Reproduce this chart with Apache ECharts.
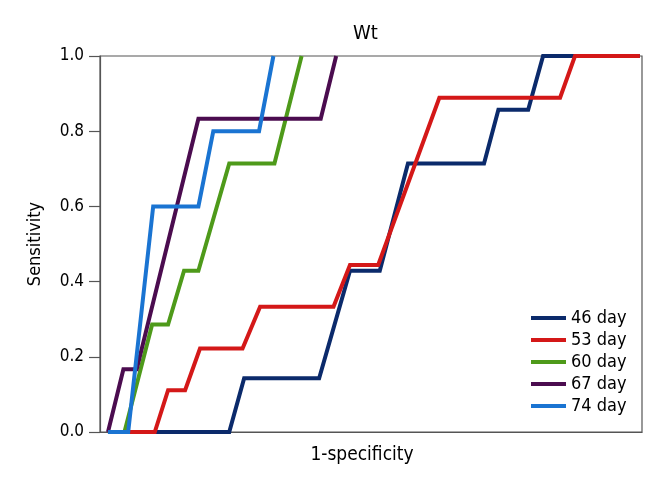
<!DOCTYPE html>
<html>
<head>
<meta charset="utf-8">
<script src="https://cdn.jsdelivr.net/npm/echarts@6/dist/echarts.min.js"></script>
<style>html,body{margin:0;padding:0;background:#fff;}#c{width:668px;height:485px;}</style>
</head>
<body>
<div id="c"></div>
<script>
var seriesNames = ['46 day', '53 day', '60 day', '67 day', '74 day'];
var colors = ['#0b2a6b', '#d41818', '#4e9a1a', '#4b0c4f', '#1a74d2'];

var x46 = [0, 0.228, 0.256, 0.397, 0.455, 0.511, 0.564, 0.707, 0.734, 0.790, 0.818, 1.0];
var y46 = [0, 0, 0.143, 0.143, 0.429, 0.429, 0.714, 0.714, 0.857, 0.857, 1, 1];

var x53 = [0, 0.088, 0.113, 0.145, 0.173, 0.253, 0.286, 0.424, 0.455, 0.508, 0.623, 0.850, 0.878, 1.0];
var y53 = [0, 0, 0.111, 0.111, 0.222, 0.222, 0.333, 0.333, 0.444, 0.444, 0.889, 0.889, 1, 1];

var x60 = [0, 0.031, 0.083, 0.113, 0.143, 0.170, 0.228, 0.313, 0.364];
var y60 = [0, 0, 0.286, 0.286, 0.429, 0.429, 0.714, 0.714, 1];

var x67 = [0, 0.029, 0.054, 0.170, 0.400, 0.429];
var y67 = [0, 0.167, 0.167, 0.833, 0.833, 1];

var x74 = [0, 0.038, 0.085, 0.170, 0.198, 0.284, 0.311];
var y74 = [0, 0, 0.6, 0.6, 0.8, 0.8, 1];

var yTicks = [0, 0.2, 0.4, 0.6, 0.8, 1.0];

var xs = [x46, x53, x60, x67, x74];
var ys = [y46, y53, y60, y67, y74];

function pairs(xa, ya) {
  return xa.map(function (v, i) { return [v, ya[i]]; });
}

var FONT = "'DejaVu Sans Condensed', Roboto, sans-serif";

var chart = echarts.init(document.getElementById('c'), null, {renderer: 'canvas'});
chart.setOption({
  animation: false,
  backgroundColor: '#fff',
  title: {
    text: 'Wt',
    left: 348,
    top: 19,
    textStyle: {fontFamily: FONT, fontSize: 20, fontWeight: 'normal', color: '#000'}
  },
  grid: {
    left: 100, right: 26, top: 56, bottom: 53,
    show: true, borderColor: '#555', borderWidth: 1.2, backgroundColor: 'transparent'
  },
  legend: {
    orient: 'vertical',
    left: 526,
    top: 303,
    icon: 'rect',
    itemWidth: 35,
    itemHeight: 4,
    itemGap: 2,
    data: seriesNames,
    textStyle: {fontFamily: FONT, fontSize: 18, color: '#000', lineHeight: 20}
  },
  xAxis: {
    type: 'value',
    min: -0.015,
    max: 1.004,
    name: '1-specificity',
    nameLocation: 'middle',
    nameGap: 14,
    nameTextStyle: {fontFamily: FONT, fontSize: 19, color: '#000', padding: [0, 18, 0, 0]},
    axisLine: {show: true, lineStyle: {color: '#555', width: 1.2}},
    axisTick: {show: false},
    axisLabel: {show: false},
    splitLine: {show: false}
  },
  yAxis: {
    type: 'value',
    min: 0,
    max: 1,
    interval: 0.2,
    name: 'Sensitivity',
    nameLocation: 'middle',
    nameGap: 56,
    nameTextStyle: {fontFamily: FONT, fontSize: 18, color: '#000'},
    axisLine: {show: true, onZero: false, lineStyle: {color: '#555', width: 1.2}},
    axisTick: {show: true, inside: false, length: 11, lineStyle: {color: '#555', width: 1.2}},
    axisLabel: {
      margin: 16,
      fontFamily: FONT,
      fontSize: 17,
      color: '#000',
      formatter: function (v) { return v.toFixed(1); }
    },
    splitLine: {show: false}
  },
  series: seriesNames.map(function (n, i) {
    return {
      name: n,
      type: 'line',
      data: pairs(xs[i], ys[i]),
      showSymbol: false,
      symbol: 'none',
      color: colors[i],
      lineStyle: {width: 4, color: colors[i], join: 'miter', cap: 'butt'},
      z: 2 + i
    };
  })
});
</script>
</body>
</html>
